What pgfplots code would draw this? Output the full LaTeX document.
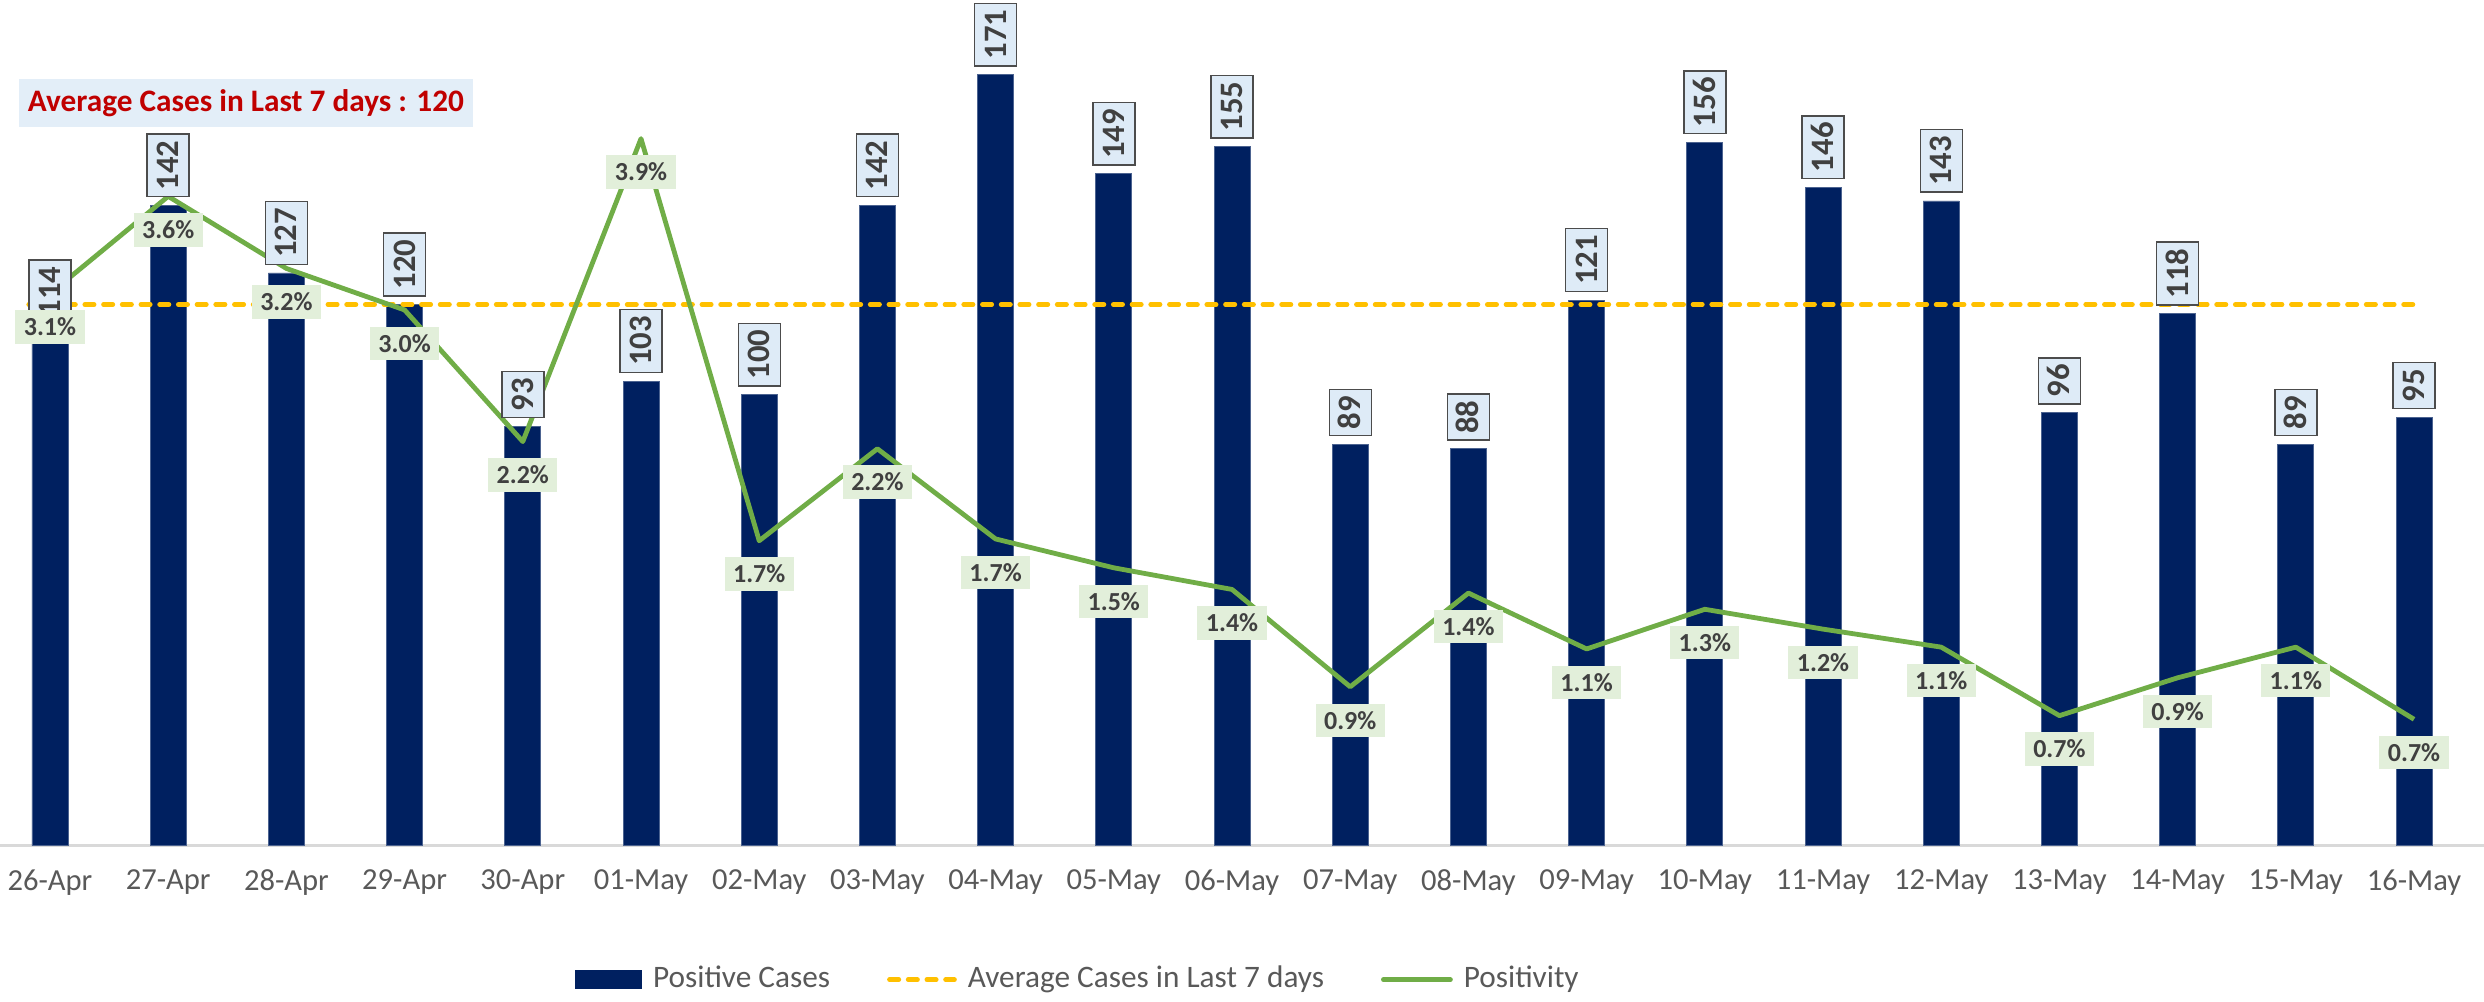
\documentclass[border=0pt]{standalone}
\usepackage{pgfplots}
\pgfplotsset{compat=1.18}
\usepackage{fontspec}
\setmainfont{Carlito}
\definecolor{navy}{HTML}{002060}
\definecolor{avgc}{HTML}{FFC000}
\definecolor{posc}{HTML}{70AD47}
\definecolor{lblue}{HTML}{DEEBF7}
\definecolor{tblue}{HTML}{E3EEF8}
\definecolor{lgreen}{HTML}{E2EFDA}
\definecolor{txt}{HTML}{404040}
\definecolor{tickc}{HTML}{595959}
\definecolor{titlered}{HTML}{C00000}
\pgfplotsset{
  base/.style={scale only axis, width=24.84cm, height=8.385cm,
    xmin=-0.423, xmax=20.592, clip=false},
}
\begin{document}
\begin{tikzpicture}
\useasboundingbox (0,-1.555) rectangle (24.84,8.455);
% axis 1: bars and average line
\begin{axis}[base, ymin=0, ymax=186,
  axis x line=bottom, axis y line=none,
  x axis line style={-, draw=gray!30, line width=0.25mm},
  xtick={0,...,20},
  xticklabels={26-Apr,27-Apr,28-Apr,29-Apr,30-Apr,01-May,02-May,03-May,04-May,05-May,06-May,07-May,08-May,09-May,10-May,11-May,12-May,13-May,14-May,15-May,16-May},
  major tick length=0pt, xtick style={draw=none},
  xticklabel style={font=\fontsize{8.7}{10}\selectfont, text=tickc, yshift=-1.15mm},
  ytick=\empty,
  legend columns=3,
  legend style={at={(0.4350,-0.160)}, anchor=center, draw=none, fill=none,
    font=\fontsize{8.9}{10}\selectfont, text=tickc,
    /tikz/every even column/.append style={column sep=5.0mm},
    /tikz/every odd column/.append style={column sep=0.4mm}},
]
\addplot[ybar, bar width=3.6mm, fill=navy, draw=navy!70!white, line width=0.2pt,
  legend image code/.code={\fill[navy] (0cm,-0.09cm) rectangle (0.66cm,0.09cm);}]
  coordinates {(0,114) (1,142) (2,127) (3,120) (4,93) (5,103) (6,100) (7,142) (8,171) (9,149) (10,155) (11,89) (12,88) (13,121) (14,156) (15,146) (16,143) (17,96) (18,118) (19,89) (20,95)};
\addlegendentry{Positive Cases}
\addplot[avgc, line width=0.47mm, dash pattern=on 0.93mm off 0.94mm, line cap=round,
  legend image code/.code={\draw[avgc, line width=0.47mm, dash pattern=on 0.93mm off 0.94mm, line cap=round] (0.02cm,0cm) -- (0.67cm,0cm);}]
  coordinates {(-0.18,120) (20.05,120)};
\addlegendentry{Average Cases in Last 7 days}
\addlegendimage{posc, line width=0.48mm, legend image code/.code={\draw[posc, line width=0.48mm, line cap=round] (0cm,0cm) -- (0.67cm,0cm);}}
\addlegendentry{Positivity}
\end{axis}
% axis 2: positivity line
\begin{axis}[base, ymin=0, ymax=4.65, hide axis]
\addplot[posc, line width=0.48mm, line join=round]
  coordinates {(0,3.06) (1,3.6) (2,3.2) (3,2.97) (4,2.24) (5,3.92) (6,1.69) (7,2.2) (8,1.7) (9,1.54) (10,1.42) (11,0.88) (12,1.4) (13,1.09) (14,1.31) (15,1.2) (16,1.1) (17,0.72) (18,0.93) (19,1.1) (20,0.7)};
\end{axis}
% axis 3: bar labels
\begin{axis}[base, ymin=0, ymax=186, hide axis]
\addplot[ybar, bar width=3.6mm, draw=none, fill=none,
  nodes near coords, /pgf/number format/assume math mode=true,
  every node near coord/.append style={font=\bfseries\fontsize{9.3}{10}\selectfont, text=txt,
    fill=lblue, draw=gray!60!black, line width=0.4pt,
    inner xsep=0.65mm, inner ysep=1.05mm, text height=2.1mm, text depth=0pt,
    yshift=0.8mm, rotate=90, anchor=west}]
  coordinates {(0,114) (1,142) (2,127) (3,120) (4,93) (5,103) (6,100) (7,142) (8,171) (9,149) (10,155) (11,89) (12,88) (13,121) (14,156) (15,146) (16,143) (17,96) (18,118) (19,89) (20,95)};
\end{axis}
% axis 4: positivity labels
\begin{axis}[base, ymin=0, ymax=4.65, hide axis]
\addplot[draw=none, mark=none, point meta=explicit,
  nodes near coords={\pgfmathprintnumber[fixed, fixed zerofill, precision=1, assume math mode=true]{\pgfplotspointmeta}\%},
  every node near coord/.append style={font=\bfseries\fontsize{7.4}{8}\selectfont, text=txt,
    fill=lgreen, draw=none, inner xsep=0.85mm, inner ysep=0.8mm, text height=1.75mm, text depth=0pt,
    anchor=north, yshift=-1.6mm}]
  coordinates {(0,3.06)[3.1] (1,3.6)[3.6] (2,3.2)[3.2] (3,2.97)[3.0] (4,2.24)[2.2] (5,3.92)[3.9] (6,1.69)[1.7] (7,2.2)[2.2] (8,1.7)[1.7] (9,1.54)[1.5] (10,1.42)[1.4] (11,0.88)[0.9] (12,1.4)[1.4] (13,1.09)[1.1] (14,1.31)[1.3] (15,1.2)[1.2] (16,1.1)[1.1] (17,0.72)[0.7] (18,0.93)[0.9] (19,1.1)[1.1] (20,0.7)[0.7]};
\end{axis}
\node[fill=tblue, text=titlered, font=\bfseries\fontsize{8.9}{10}\selectfont,
  inner xsep=0.85mm, inner ysep=0pt, minimum height=4.8mm] at (2.46,7.42) {Average Cases in Last 7 days : 120};
\end{tikzpicture}
\end{document}
